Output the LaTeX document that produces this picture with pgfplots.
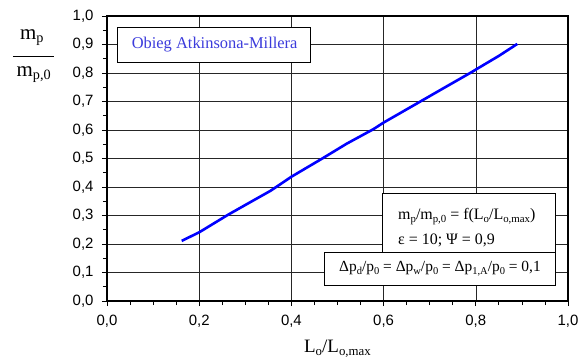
\documentclass[border=0pt]{standalone}
\usepackage{fontspec}
\setmainfont{Liberation Serif}
\setsansfont{Liberation Sans}
\usepackage{graphicx}
\usepackage{pgfplots}
\pgfplotsset{compat=1.18}
\definecolor{lineblue}{RGB}{0,0,255}
\definecolor{txtblue}{RGB}{60,60,220}
\newcommand{\sub}[1]{\raisebox{-0.35ex}{\scalebox{0.68}{#1}}}
\begin{document}
\begin{tikzpicture}
\begin{axis}[
  scale only axis,
  width=461bp, height=285bp,
  xmin=0, xmax=1, ymin=0, ymax=1,
  xtick={0,0.2,0.4,0.6,0.8,1.0},
  ytick={0,0.1,0.2,0.3,0.4,0.5,0.6,0.7,0.8,0.9,1.0},
  minor x tick num=3,
  minor y tick num=1,
  xtick pos=left, ytick pos=left,
  tick align=outside,
  major tick length=5bp, minor tick length=4bp,
  grid=major,
  major grid style={black!85, line width=0.5bp},
  axis line style={line width=1.2bp},
  every tick/.style={black, line width=0.8bp},
  every minor tick/.style={black, line width=0.8bp},
  /pgf/number format/.cd, use comma, fixed, fixed zerofill, precision=1, assume math mode=true,
  /pgfplots/.cd,
  ticklabel style={font=\sffamily\fontsize{15}{17}\selectfont},
  xticklabel style={yshift=-6bp},
  yticklabel style={xshift=-5bp},
  clip=false,
]
\addplot[lineblue, line width=2.6bp] coordinates {
(0.162,0.211) (0.200,0.241) (0.263,0.303) (0.310,0.346) (0.354,0.386) (0.368,0.401)
(0.400,0.436) (0.466,0.499) (0.520,0.552) (0.578,0.603) (0.600,0.626) (0.683,0.703)
(0.740,0.756) (0.793,0.805) (0.800,0.812) (0.850,0.860) (0.890,0.902)
};
\node[font=\fontsize{19}{21}\selectfont, inner sep=0pt, anchor=base] at (axis cs:0.5,0) [yshift=-51bp] {L\sub{o}/L\sub{o,max}};
\node[font=\fontsize{21}{23}\selectfont, inner sep=0pt] at (rel axis cs:-0.163,0.925) {m\sub{p}};
\draw[line width=0.9bp] (rel axis cs:-0.2039,0.8596) -- (rel axis cs:-0.1150,0.8596);
\node[font=\fontsize{21}{23}\selectfont, inner sep=0pt] at (rel axis cs:-0.159,0.795) {m\sub{p,0}};
% box 1
\draw[black, line width=0.6bp, fill=white] (rel axis cs:0.0217,0.838) rectangle (rel axis cs:0.4403,0.9614);
\node[txtblue, font=\fontsize{16.5}{18}\selectfont] at (rel axis cs:0.2335,0.900) {Obieg Atkinsona-Millera};
% box 3
\draw[black, line width=0.6bp, fill=white] (rel axis cs:0.471,0.0561) rectangle (rel axis cs:0.9733,0.1705);
\node[font=\fontsize{15.5}{17}\selectfont] at (rel axis cs:0.7223,0.1133) {Δp\sub{d}/p\sub{0} = Δp\sub{w}/p\sub{0} = Δp\sub{1,A}/p\sub{0} = 0,1};
% box 2
\draw[black, line width=0.6bp, fill=white] (rel axis cs:0.598,0.1705) rectangle (rel axis cs:0.9733,0.3764);
\node[font=\fontsize{16}{18}\selectfont, anchor=west] at (rel axis cs:0.624,0.296) {m\sub{p}/m\sub{p,0} = f(L\sub{o}/L\sub{o,max})};
\node[font=\fontsize{16}{18}\selectfont, anchor=west] at (rel axis cs:0.624,0.214) {ε = 10; Ψ = 0,9};
\end{axis}
\pgfresetboundingbox
\path[use as bounding box] ([shift={(-107bp,-57bp)}]current axis.south west) rectangle ([shift={(11bp,16bp)}]current axis.north east);
\end{tikzpicture}
\end{document}
